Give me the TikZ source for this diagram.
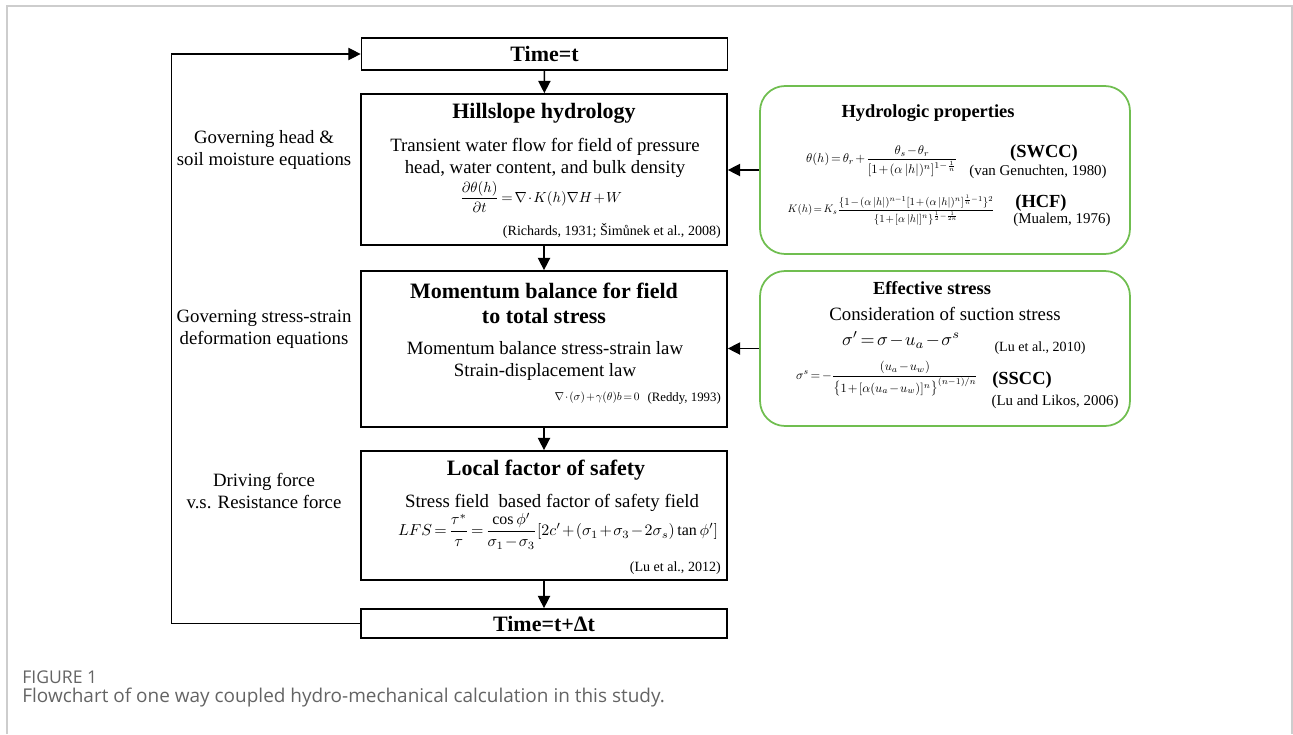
\documentclass[tikz,border=0pt]{standalone}
\usepackage{amsmath}
\usepackage{graphicx}
\usepackage{fontspec}
\setmainfont{Liberation Serif}
\newfontfamily\capfont{Open Sans}
\usetikzlibrary{arrows.meta}
\definecolor{grnline}{RGB}{112,190,80}
\definecolor{framegray}{RGB}{205,205,205}
\definecolor{capgray}{RGB}{100,100,100}
\newcommand{\eqbox}[2]{\resizebox{#1}{!}{\medmuskip=1.5mu\thickmuskip=2.5mu$\displaystyle #2$}}

\begin{document}
\begin{tikzpicture}[x=0.02cm, y=-0.02cm,
    blkbox/.style={draw, line width=1pt, minimum width=7.32cm, inner sep=0pt},
    grnbox/.style={draw=grnline, line width=1pt, rounded corners=0.5cm, minimum width=7.4cm, inner sep=0pt},
    ttl/.style={font=\fontsize{12.5}{14}\selectfont\bfseries, align=center},
    sttl/.style={font=\fontsize{10.5}{12}\selectfont\bfseries, inner sep=0.5pt},
    txt/.style={font=\fontsize{10.7}{12.3}\selectfont, align=center},
    cite/.style={font=\fontsize{8}{10}\selectfont, inner sep=0.5pt},
    eqn/.style={inner sep=0pt},
    arr/.style={-{Triangle[length=7pt,width=7pt]}, line width=0.8pt}]

    \useasboundingbox (0,0) rectangle (1293,734);

    % marco de la figura
    \draw[framegray, line width=1pt] (7,734) -- (7,6) -- (1292,6) -- (1292,734);

    % cajas principales
    \node[blkbox, minimum height=0.64cm, ttl] (t0) at (544.5,54) {Time=t};
    \node[blkbox, minimum height=3.02cm] (hill) at (544,169.5) {};
    \node[blkbox, minimum height=3.12cm] (mom) at (544,349) {};
    \node[blkbox, minimum height=2.58cm] (lfs) at (544,515.5) {};
    \node[blkbox, minimum height=0.58cm, ttl] (tend) at (544,623.5) {Time=t+Δt};

    % cajas verdes
    \node[grnbox, minimum height=3.36cm] (hyd) at (945,170) {};
    \node[grnbox, minimum height=3.1cm] (eff) at (945,348.5) {};

    % flechas
    \draw[arr] (t0) -- (hill);
    \draw[arr] (hill) -- (mom);
    \draw[arr] (mom) -- (lfs);
    \draw[arr] (lfs) -- (tend);
    \draw[arr] (hyd.west) -- (hill.east |- hyd.west);
    \draw[arr] (eff.west) -- (mom.east |- eff.west);
    \draw[arr, line width=0.6pt] (tend.west) -- ++(-189,0) |- (t0.west);

    % etiquetas a la izquierda
    \node[txt] (lbl1) at (264,150) {Governing head \&\\soil moisture equations};
    \node[txt] (lbl2) at (264,329) {Governing stress-strain\\deformation equations};
    \node[txt] (lbl3) at (264,491) {Driving force\\v.s. Resistance force};

    % hillslope hydrology
    \node[ttl] (hillttl) at (544,113) {Hillslope hydrology};
    \node[txt] (hilltxt) at (545,158) {Transient water flow for field of pressure\\head, water content, and bulk density};
    \node[eqn] (hilleq) at (541,197) {\eqbox{3.24cm}{\frac{\partial\theta(h)}{\partial t}=\nabla\cdot K(h)\nabla H+W}};
    \node[cite, anchor=east] (hillref) at (722,231) {(Richards, 1931; Šimůnek et al., 2008)};

    % momentum balance
    \node[ttl] (momttl) at (544,303.5) {Momentum balance for field\\to total stress};
    \node[txt] (momtxt) at (545,361) {Momentum balance stress-strain law\\Strain-displacement law};
    \node[eqn, anchor=east] (momeq) at (640,398) {\eqbox{1.7cm}{\nabla\cdot(\sigma)+\gamma(\theta)b=0}};
    \node[cite, anchor=east, font=\fontsize{7.3}{9}\selectfont] (momref) at (722,398) {(Reddy, 1993)};

    % local factor of safety
    \node[ttl] (lfsttl) at (546,470) {Local factor of safety};
    \node[txt] (lfstxt) at (552,503) {Stress field \ based factor of safety field};
    \node[eqn] (lfseq) at (558,531) {\eqbox{6.4cm}{LFS=\frac{\tau^{*}}{\tau}=\frac{\cos\phi'}{\sigma_1-\sigma_3}[2c'+(\sigma_1+\sigma_3-2\sigma_s)\tan\phi']}};
    \node[cite, anchor=east] (lfsref) at (722,568) {(Lu et al., 2012)};

    % hydrologic properties
    \node[sttl] (hydttl) at (928,113) {Hydrologic properties};
    \node[eqn] (swcceq) at (882,161) {\eqbox{3.04cm}{\theta(h)=\theta_r+\frac{\theta_s-\theta_r}{[1+(\alpha\,|h|)^n]^{1-\frac{1}{n}}}}};
    \node[sttl] (swcc) at (1044,153) {(SWCC)};
    \node[cite, font=\fontsize{8.5}{10}\selectfont] (swccref) at (1038,172) {(van Genuchten, 1980)};
    \node[eqn] (hcfeq) at (891,210) {\eqbox{4.14cm}{K(h)=K_s\frac{\{1-(\alpha\,|h|)^{n-1}[1+(\alpha\,|h|)^n]^{\frac{1}{n}-1}\}^2}{\{1+[\alpha\,|h|]^n\}^{\frac{1}{2}-\frac{1}{2n}}}}};
    \node[sttl] (hcf) at (1041,203) {(HCF)};
    \node[cite, font=\fontsize{8.5}{10}\selectfont] (hcfref) at (1062,220) {(Mualem, 1976)};

    % effective stress
    \node[sttl] (effttl) at (932,288) {Effective stress};
    \node[txt] (efftxt) at (945,314) {Consideration of suction stress};
    \node[eqn] (effeq) at (901,340) {\eqbox{2.36cm}{\sigma'=\sigma-u_a-\sigma^s}};
    \node[cite] (effref) at (1040,348) {(Lu et al., 2010)};
    \node[eqn] (ssceq) at (887,379) {\eqbox{3.64cm}{\sigma^s=-\frac{(u_a-u_w)}{\bigl\{1+[\alpha(u_a-u_w)]^n\bigr\}^{(n-1)/n}}}};
    \node[sttl] (sscc) at (1022,380) {(SSCC)};
    \node[cite, font=\fontsize{8.5}{10}\selectfont] (ssccref) at (1055,402) {(Lu and Likos, 2006)};

    % pie de figura
    \node[anchor=west, inner sep=0pt, text=capgray, font=\capfont\fontsize{10}{12}\selectfont] (capa) at (22,677) {FIGURE 1};
    \node[anchor=west, inner sep=0pt, text=capgray, font=\capfont\fontsize{10.8}{12}\selectfont] (capb) at (22,698) {Flowchart of one way coupled hydro-mechanical calculation in this study.};

\end{tikzpicture}
\end{document}
